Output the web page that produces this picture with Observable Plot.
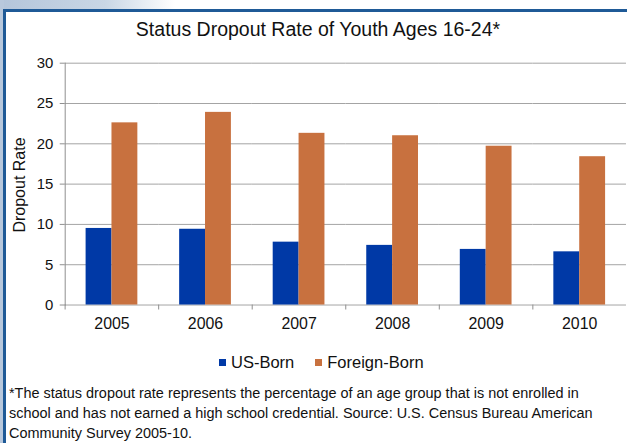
<!DOCTYPE html>
<html>
<head>
<meta charset="utf-8">
<script src="https://cdn.jsdelivr.net/npm/d3@7"></script>
<script src="https://cdn.jsdelivr.net/npm/@observablehq/plot@0.6"></script>
<style>
  html, body { margin: 0; padding: 0; }
  body { width: 627px; height: 443px; overflow: hidden; position: relative; background: #fff;
         font-family: "Liberation Sans", Arial, sans-serif; color: #111; }
  #bgTop { position: absolute; left: 0; top: 0; width: 175px; height: 10px;
           background: linear-gradient(to right, #b4c5da, #c9d6e5 60%, #ffffff); }
  #bgLeft { position: absolute; left: 0; top: 0; width: 4px; height: 443px; background: #b8c8dc; }
  #frame { position: absolute; left: 3px; top: 9px; width: 640px; height: 450px;
           border-left: 3px solid #1f5a97; border-top: 3px solid #1f5a97; background: #fff; }
  #title { position: absolute; left: 0; top: 19px; width: 636px; text-align: center;
           font-size: 19.5px; line-height: 20px; white-space: nowrap; }
  #chart { position: absolute; left: 0; top: 0; }
  #ylabel { position: absolute; left: 20px; top: 184.5px; font-size: 16px; line-height: 16px;
            white-space: nowrap; transform: translate(-50%, -50%) rotate(-90deg); }
  #legend { position: absolute; left: 219px; top: 352px; font-size: 16.5px; line-height: 20px;
            white-space: nowrap; display: flex; align-items: center; }
  #legend .sw { display: inline-block; width: 7px; height: 7px; margin-right: 5px; }
  #legend .item { display: flex; align-items: center; margin-right: 21px; }
  #note { position: absolute; left: 9px; top: 383px; font-size: 14.45px; line-height: 20px; white-space: nowrap; }
</style>
</head>
<body>
<div id="bgTop"></div>
<div id="bgLeft"></div>
<div id="frame"></div>
<div id="chart"></div>
<div id="title"></div>
<div id="ylabel"></div>
<div id="legend"></div>
<div id="note"></div>
<script>
const titleText = "Status Dropout Rate of Youth Ages 16-24*";
const yLabel = "Dropout Rate";
const years = ["2005", "2006", "2007", "2008", "2009", "2010"];
const series = ["US-Born", "Foreign-Born"];
const usBorn = [9.5, 9.4, 7.8, 7.4, 6.9, 6.6];
const foreignBorn = [22.6, 23.9, 21.3, 21.0, 19.7, 18.4];
const colors = ["#0039a6", "#c8713f"];
const yTicks = [0, 5, 10, 15, 20, 25, 30];
const noteLines = [
  "*The status dropout rate represents the percentage of an age group that is not enrolled in",
  "school and has not earned a high school credential. Source: U.S. Census Bureau American",
  "Community Survey 2005-10."
];

const data = years.flatMap((year, i) => [
  {year, series: series[0], value: usBorn[i]},
  {year, series: series[1], value: foreignBorn[i]}
]);

const W = 630, H = 345, ML = 64, MR = 1, MT = 63, MB = 39;
const step = (W - ML - MR) / years.length;
const gridColor = "#a3a3a3";

const chart = Plot.plot({
  width: W, height: H,
  marginLeft: ML, marginRight: MR, marginTop: MT, marginBottom: MB,
  style: {fontFamily: "Liberation Sans, Arial, sans-serif", color: "#111", background: "transparent"},
  fx: {domain: years, padding: 0, label: null, axis: null},
  x: {domain: series, paddingInner: 0, paddingOuter: 0.746, axis: null},
  y: {domain: [0, 30], axis: null},
  color: {domain: series, range: colors},
  marks: [
    Plot.ruleY(yTicks, {stroke: gridColor, strokeWidth: 1}),
    Plot.barY(data, {fx: "year", x: "series", y: "value", fill: "series"}),
    Plot.frame({anchor: "left", facetAnchor: "left", stroke: "#8e8e8e"}),
    Plot.axisY({ticks: yTicks, tickSize: 5, tickPadding: 7, fontSize: 15, stroke: "#8e8e8e", label: null}),
    Plot.axisFx({anchor: "bottom", tickSize: 5, tickFormat: () => "", dx: -step / 2, stroke: "#8e8e8e", label: null}),
    Plot.axisFx({anchor: "bottom", tickSize: 0, tickPadding: 13, fontSize: 16, label: null})
  ]
});
document.getElementById("chart").appendChild(chart);

document.getElementById("title").textContent = titleText;
document.getElementById("ylabel").textContent = yLabel;
const legend = document.getElementById("legend");
series.forEach((s, i) => {
  const item = document.createElement("span");
  item.className = "item";
  const sw = document.createElement("span");
  sw.className = "sw";
  sw.style.background = colors[i];
  item.appendChild(sw);
  item.appendChild(document.createTextNode(s));
  legend.appendChild(item);
});
const note = document.getElementById("note");
noteLines.forEach((line, i) => {
  if (i) note.appendChild(document.createElement("br"));
  note.appendChild(document.createTextNode(line));
});
</script>
</body>
</html>
